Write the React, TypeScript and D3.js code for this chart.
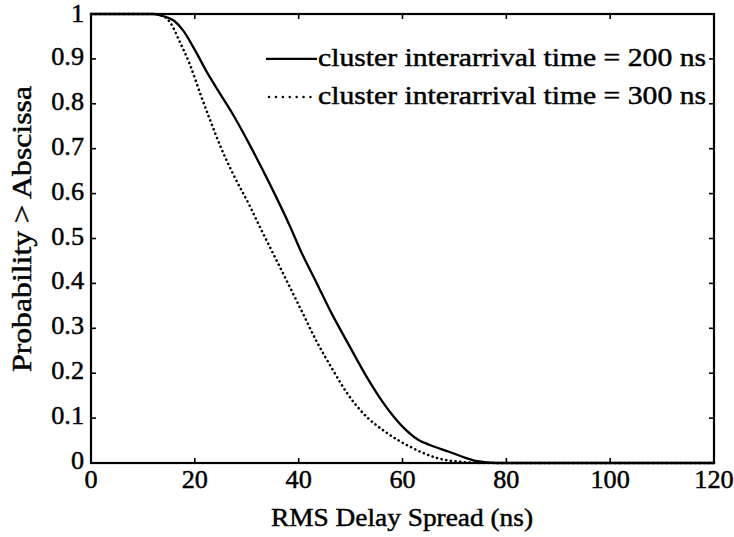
import React from "react";
import * as d3 from "d3";

const xTicks = [0, 20, 40, 60, 80, 100, 120];
const yTicks = [0, 0.1, 0.2, 0.3, 0.4, 0.5, 0.6, 0.7, 0.8, 0.9, 1];
const yTickLabels = ["0", "0.1", "0.2", "0.3", "0.4", "0.5", "0.6", "0.7", "0.8", "0.9", "1"];

// RMS delay spread (ns) and probability > abscissa
const spread200 = [0, 12, 14, 16, 17.7, 20, 22.3, 25, 27.4, 30.6, 34.5, 38.3, 40.5, 43.5, 46, 49.9, 53.1, 56.3, 60.1, 63, 65.3, 69.2, 72, 74.4, 78, 120];
const prob200 = [1, 1, 0.995, 0.985, 0.964, 0.92, 0.871, 0.82, 0.775, 0.708, 0.62, 0.528, 0.47, 0.4, 0.341, 0.258, 0.192, 0.134, 0.08, 0.052, 0.04, 0.024, 0.012, 0.004, 0, 0];

const spread300 = [0, 12, 14, 15.2, 17.1, 19.1, 21, 22.9, 24.9, 27.4, 30.6, 32.6, 34.5, 37, 40.3, 43.5, 46.6, 49.3, 52.4, 57, 61.5, 66.7, 71.7, 76, 120];
const prob300 = [1, 1, 0.995, 0.982, 0.938, 0.886, 0.824, 0.765, 0.706, 0.643, 0.572, 0.524, 0.48, 0.422, 0.345, 0.27, 0.207, 0.156, 0.111, 0.067, 0.036, 0.011, 0.002, 0, 0];

const legendLabels = ["cluster interarrival time = 200 ns", "cluster interarrival time = 300 ns"];
const xLabel = "RMS Delay Spread (ns)";
const yLabel = "Probability > Abscissa";

const W = 734;
const H = 537;
const L = 91, R = 714, T = 14, B = 463;
const FONT = "'Liberation Serif', 'Times New Roman', serif";
const SX = 1.05;
const FS = 25;
const TXT = { fontFamily: FONT, fontSize: FS, fill: "#000", stroke: "#000", strokeWidth: 0.45 };

export default function App() {
  const x = d3.scaleLinear().domain([0, 120]).range([L, R]);
  const y = d3.scaleLinear().domain([0, 1]).range([B, T]);
  const line = d3.line<[number, number]>().x((d) => x(d[0])).y((d) => y(d[1])).curve(d3.curveMonotoneX);
  const d200 = line(spread200.map((v, i) => [v, prob200[i]] as [number, number])) || "";
  const d300 = line(spread300.map((v, i) => [v, prob300[i]] as [number, number])) || "";
  const tl = 5;
  const legendY = [y(0.9), y(0.815)];

  return (
    <svg width={W} height={H} style={{ position: "absolute", left: 0, top: 0, background: "#fff" }}>
      <rect width={W} height={H} fill="#fff" />
      {/* curves */}
      <path d={d200} fill="none" stroke="#000" strokeWidth={2.3} />
      <path d={d300} fill="none" stroke="#000" strokeWidth={2.6} strokeDasharray="0.1 4.6" strokeLinecap="round" />
      {/* frame */}
      <rect x={L} y={T} width={R - L} height={B - T} fill="none" stroke="#000" strokeWidth={2.2} />
      {/* ticks */}
      {xTicks.map((t) => (
        <g key={"xt" + t}>
          <line x1={x(t)} x2={x(t)} y1={B} y2={B - tl} stroke="#000" strokeWidth={1.6} />
          <line x1={x(t)} x2={x(t)} y1={T} y2={T + tl} stroke="#000" strokeWidth={1.6} />
          <text transform={`translate(${x(t)},${B + 25}) scale(${SX},1)`} textAnchor="middle" {...TXT}>
            {t}
          </text>
        </g>
      ))}
      {yTicks.map((t, i) => (
        <g key={"yt" + t}>
          <line x1={L} x2={L + tl} y1={y(t)} y2={y(t)} stroke="#000" strokeWidth={1.6} />
          <line x1={R} x2={R - tl} y1={y(t)} y2={y(t)} stroke="#000" strokeWidth={1.6} />
          <text transform={`translate(${L - 7},${Math.max(y(t) + 6, 22)}) scale(${SX},1)`} textAnchor="end" {...TXT}>
            {yTickLabels[i]}
          </text>
        </g>
      ))}
      {/* legend */}
      <line x1={266} x2={317} y1={legendY[0]} y2={legendY[0]} stroke="#000" strokeWidth={2.2} />
      <line x1={269} x2={317} y1={legendY[1]} y2={legendY[1]} stroke="#000" strokeWidth={2.4} strokeDasharray="0.1 6.8" strokeLinecap="round" />
      {legendLabels.map((s, i) => (
        <text key={s} x={318} y={legendY[i] + 7} {...TXT} textLength={388} lengthAdjust="spacingAndGlyphs">
          {s}
        </text>
      ))}
      {/* axis labels */}
      <text x={402} y={526} textAnchor="middle" {...TXT} textLength={262} lengthAdjust="spacingAndGlyphs">
        {xLabel}
      </text>
      <text transform={`translate(31,229) rotate(-90)`} textAnchor="middle" {...TXT} fontSize={27} textLength={286} lengthAdjust="spacingAndGlyphs">
        {yLabel}
      </text>
    </svg>
  );
}
